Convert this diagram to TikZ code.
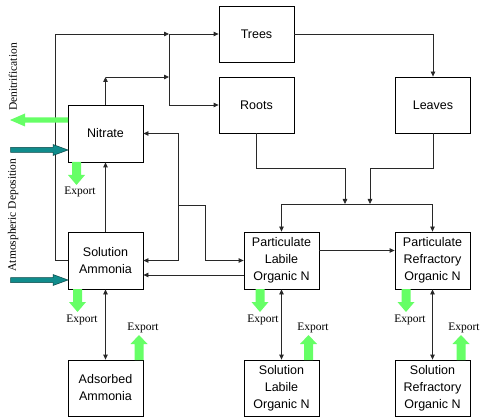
\documentclass[tikz,border=0pt]{standalone}
\usepackage{fontspec}
\setmainfont{Liberation Serif}
\newfontfamily\boxfont{Liberation Sans}
\usetikzlibrary{arrows.meta}
\definecolor{expgreen}{RGB}{102,255,102}
\definecolor{depteal}{RGB}{16,140,140}
\definecolor{deptealdark}{RGB}{10,70,70}
\definecolor{linegray}{RGB}{40,40,40}
\newcommand\expdown[2]{\fill[expgreen] (#1-4.5,#2) -- (#1+4.5,#2) -- (#1+4.5,#2+13) -- (#1+8.5,#2+13) -- (#1,#2+23) -- (#1-8.5,#2+13) -- (#1-4.5,#2+13) -- cycle;}
\newcommand\expup[2]{\fill[expgreen] (#1-4.5,#2) -- (#1+4.5,#2) -- (#1+4.5,#2-16) -- (#1+8.5,#2-16) -- (#1,#2-25) -- (#1-8.5,#2-16) -- (#1-4.5,#2-16) -- cycle;}
\newcommand\depright[1]{\filldraw[fill=depteal,draw=deptealdark,line width=0.5pt] (10.7,#1-2.5) -- (53,#1-2.5) -- (53,#1-5.5) -- (68,#1) -- (53,#1+5.5) -- (53,#1+2.5) -- (10.7,#1+2.5) -- cycle;}
\begin{document}
\begin{tikzpicture}[x=1pt,y=-1pt,
  box/.style={draw=black,line width=0.8pt,minimum width=75pt,minimum height=56pt,inner sep=1pt,align=center,
    font=\boxfont\fontsize{12.5}{17}\selectfont},
  conn/.style={draw=linegray,line width=0.8pt},
  flow/.style={conn,-{Triangle[length=5pt,width=4.5pt]}},
  flowboth/.style={conn,{Triangle[length=5pt,width=4.5pt]}-{Triangle[length=5pt,width=4.5pt]}},
  lbl/.style={font=\fontsize{11.5}{13}\selectfont,inner sep=0pt}]
\useasboundingbox (0,0) rectangle (485,417);
% boxes
\node[box] (trees) at (256.5,34) {Trees};
\node[box] (roots) at (256.5,105) {Roots};
\node[box] (leaves) at (433,105) {Leaves};
\node[box,minimum height=57pt] (nitrate) at (105.5,133.5) {Nitrate};
\node[box,minimum height=57pt] (sa) at (105.5,260.5) {Solution\\Ammonia};
\node[box] (ads) at (105.5,388) {Adsorbed\\Ammonia};
\node[box,minimum height=57pt] (pl) at (281.5,260.5) {Particulate\\Labile\\Organic N};
\node[box,minimum height=57pt] (pr) at (432.5,260.5) {Particulate\\Refractory\\Organic N};
\node[box] (sl) at (281.5,388) {Solution\\Labile\\Organic N};
\node[box] (sr) at (432.5,388) {Solution\\Refractory\\Organic N};
% junction coordinates
\coordinate (jt) at (169,34);
\coordinate (jr) at (169,105);
\coordinate (jn) at (169,77);
\coordinate (b1) at (345,204);
\coordinate (b2) at (370,204);
\coordinate (m1) at (178,205);
\coordinate (m2) at (205,205);
% connectors
\draw[flow] (sa.west) -| (55,34) -- (jt);
\draw[flow] (jt) -- (trees.west);
\draw[conn] (jt) -- (jr);
\draw[flow] (jr) -- (roots.west);
\draw[flow] (nitrate.north) -- (nitrate.north |- jn);
\draw[flow] (nitrate.north |- jn) -- (jn);
\draw[flow] (trees.east) -| (leaves.north);
\draw[flow] (roots.south) -- ++(0,35) -| (b1);
\draw[flow] (leaves.south) -- ++(0,35) -| (b2);
\draw[flowboth] (pl.north) -- (pl.north |- b1) -- (pr.north |- b1) -- (pr.north);
\draw[flow] ([yshift=10pt]pl.east) -- ([yshift=10pt]pr.west);
\draw[flow] (m1) |- (nitrate.east);
\draw[flow] (m1) |- (sa.east);
\draw[flow] (m1) -- (m2) |- (pl.west);
\draw[flow] ([yshift=-14.5pt]pl.west) -- ([yshift=-14.5pt]sa.east);
\draw[flow] (sa.north) -- (nitrate.south);
\draw[flowboth] (sa.south) -- (ads.north);
\draw[flowboth] (pl.south) -- (sl.north);
\draw[flowboth] (pr.south) -- (sr.north);
% denitrification arrow
\fill[expgreen] (68,117.3) -- (25,117.3) -- (25,113.5) -- (10,120) -- (25,126.5) -- (25,122.7) -- (68,122.7) -- cycle;
% deposition arrows
\depright{150}
\depright{280}
% export arrows
\expdown{76.5}{162}
\expdown{77.5}{289}
\expdown{260}{289}
\expdown{406}{289}
\expup{139}{360}
\expup{308.5}{360}
\expup{461}{360}
% labels
\node[lbl,rotate=90] (denit) at (13,77) {Denitrification};
\node[lbl,rotate=90] (atm) at (13,215) {Atmospheric Deposition};
\node[lbl] (e1) at (80,192) {Export};
\node[lbl] (e2) at (82,320) {Export};
\node[lbl] (e3) at (263,320) {Export};
\node[lbl] (e4) at (410,320) {Export};
\node[lbl] (e5) at (143,328) {Export};
\node[lbl] (e6) at (313,328) {Export};
\node[lbl] (e7) at (464,328) {Export};
\end{tikzpicture}
\end{document}
